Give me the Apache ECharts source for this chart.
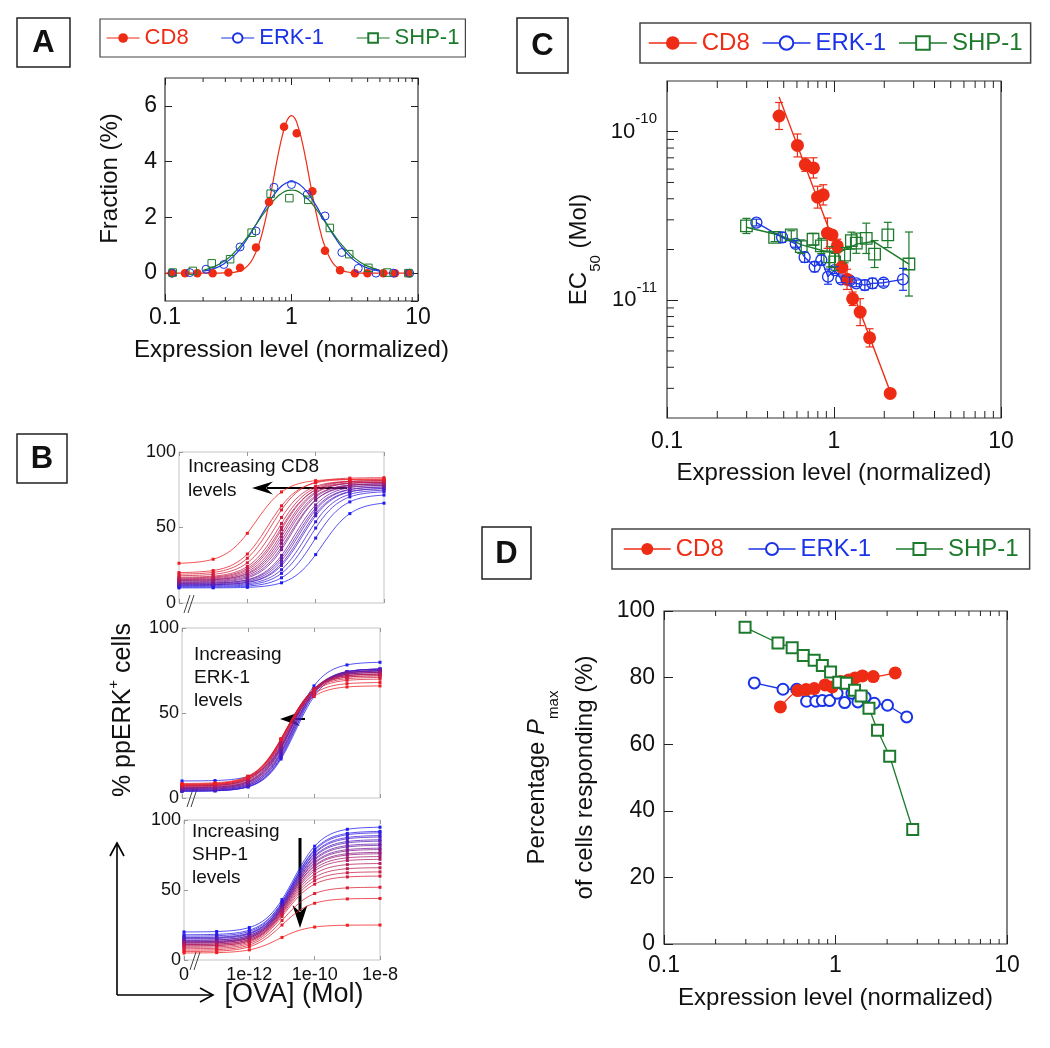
<!DOCTYPE html>
<html>
<head>
<meta charset="utf-8">
<title>Figure</title>
<script src="https://cdn.jsdelivr.net/npm/echarts@6.0.0/dist/echarts.min.js"></script>
<style>
html,body{margin:0;padding:0;background:#ffffff;}
#chart{width:1050px;height:1048px;}
</style>
</head>
<body>
<div id="chart"></div>
<script>
// ================= DATA =================
// Panel A: measured distributions
const aCd8X = [0.113,0.144,0.180,0.238,0.317,0.392,0.524,0.664,0.873,1.099,1.462,1.84,2.42,3.17,3.98,5.32,6.58,8.39];
const aCd8Y = [0,0,0,0,0.02,0.19,0.92,2.55,5.25,5.02,2.94,0.80,0.10,0,0,0,0,0];
const aErkX = [0.114,0.157,0.211,0.292,0.392,0.524,0.727,1.0,1.33,1.84,2.5,3.37,4.65,6.38,8.6];
const aErkY = [0,0.02,0.14,0.31,0.94,1.51,3.08,3.18,2.82,2.05,0.74,0.17,0,0,0];
const aShpX = [0.115,0.166,0.234,0.327,0.484,0.684,0.962,1.358,2.01,2.86,4.05,5.71,8.39];
const aShpY = [0.02,0.08,0.35,0.50,1.45,2.85,2.69,2.63,1.62,0.68,0.19,0.02,0];
// Panel A: fitted curves
const aFitX    = [0.1,0.15,0.2,0.25,0.3,0.35,0.4,0.45,0.5,0.55,0.6,0.65,0.7,0.75,0.8,0.85,0.9,0.95,1,1.05,1.1,1.2,1.3,1.4,1.5,1.6,1.7,1.8,2,2.2,2.5,3,3.5,4,5,6,8,9];
const aCd8FitY = [0,0,0,0,0.01,0.03,0.1,0.26,0.56,1.01,1.61,2.31,3.06,3.8,4.45,4.97,5.36,5.58,5.65,5.59,5.41,4.81,4.06,3.27,2.56,1.96,1.46,1.07,0.56,0.28,0.1,0.02,0,0,0,0,0,0];
const aErkFitY = [null,null,0.07,0.18,0.37,0.62,0.92,1.25,1.59,1.91,2.21,2.48,2.71,2.89,3.04,3.15,3.22,3.27,3.28,3.27,3.24,3.12,2.96,2.77,2.56,2.35,2.14,1.95,1.59,1.29,0.92,0.53,0.31,0.18,0.07,null,null,null];
const aShpFitY = [null,null,0.1,0.25,0.46,0.72,1.01,1.31,1.6,1.88,2.13,2.34,2.53,2.68,2.8,2.88,2.94,2.97,2.98,2.97,2.95,2.85,2.73,2.58,2.41,2.24,2.07,1.9,1.6,1.34,1.01,0.63,0.39,0.25,0.1,null,null,null];

// Panel B: dose-response fits, one entry per cell group (red -> blue)
// parameters: bottom %, top %, log10 EC50
const bConc = [-14,-13,-12,-11,-10,-9,-8];   // -14 stands for the "0" dose
const b1Ec     = [-11.75,-11.4,-11.3,-11.2,-11.1,-11.05,-11.0,-10.95,-10.9,-10.85,-10.8,-10.75,-10.7,-10.6,-10.55,-10.5,-10.45,-10.4,-10.3,-10.2,-10.05,-9.8];
const b1Bottom = [26,20,19,18,17,16.5,16,15.5,15,15,14.5,14,13.5,13,13,12.5,12,12,11.5,11,10.5,10];
const b1Top    = [82,82,83,81,81,80,81,80,80,79,79,78,79,78,77,77,76,76,75,74,72,67];
const b2Ec     = [-10.92,-10.9,-10.88,-10.87,-10.85,-10.84,-10.82,-10.8,-10.79,-10.77,-10.75,-10.73,-10.72,-10.7,-10.68,-10.66,-10.64,-10.62,-10.6,-10.58,-10.56,-10.6];
const b2Bottom = [8,8.5,8,7.5,7.5,7,7,7,6.5,6,6,6,5.5,5.5,5,5,4.5,4.5,4,4,4,10];
const b2Top    = [66,68,70,71,72,72,73,73,73,74,74,74,75,75,75,75,76,76,76,76,75,80];
const b3Ec     = [-11.1,-11.0,-10.95,-10.9,-10.88,-10.85,-10.83,-10.8,-10.79,-10.78,-10.77,-10.76,-10.75,-10.74,-10.73,-10.72,-10.71,-10.7,-10.69,-10.68,-10.67,-10.65];
const b3Bottom = [5,6,7,8,9,10,10,11,11,12,12,12.5,13,13,14,14,15,15.5,16,17,18,20];
const b3Top    = [25,44,52,60,63,66,69,72,74,76,77,79,80,82,83,85,86,88,89,91,92,95];

// Panel C: EC50 vs expression, error half-widths in decades
const cCd8X   = [0.469,0.604,0.673,0.753,0.798,0.862,0.914,0.973,1.046,1.114,1.197,1.293,1.434,1.634,2.17];
const cCd8Y   = [1.24e-10,8.29e-11,6.38e-11,6.1e-11,4.09e-11,4.22e-11,2.5e-11,2.44e-11,2.1e-11,1.57e-11,1.33e-11,1.02e-11,8.5e-12,5.98e-12,2.8e-12];
const cCd8Err = [0.08,0.068,0.04,0.06,0.065,0.06,0.09,0.02,0.04,0.03,0.06,0.04,0.08,0.054,0.01];
const cCd8FitX = [0.469,2.2];
const cCd8FitY = [1.61e-10,2.77e-12];
const cErkX   = [0.343,0.489,0.59,0.667,0.766,0.84,0.921,1.009,1.106,1.24,1.36,1.53,1.70,1.98,2.59];
const cErkY   = [2.89e-11,2.36e-11,2.16e-11,1.80e-11,1.58e-11,1.73e-11,1.38e-11,1.51e-11,1.33e-11,1.31e-11,1.26e-11,1.23e-11,1.26e-11,1.27e-11,1.33e-11];
const cErkErr = [0.02,0.03,0.02,0.03,0.03,0.03,0.045,0.02,0.02,0.02,0.02,0.03,0.03,0.02,0.065];
const cShpX   = [0.299,0.441,0.555,0.637,0.749,0.84,0.942,1.009,1.158,1.27,1.36,1.56,1.75,2.10,2.81];
const cShpY   = [2.76e-11,2.36e-11,2.44e-11,2.08e-11,2.30e-11,2.10e-11,1.81e-11,1.69e-11,1.85e-11,2.26e-11,2.18e-11,2.33e-11,1.88e-11,2.44e-11,1.64e-11];
const cShpErr = [0.045,0.025,0.025,0.04,0.035,0.045,0.06,0.05,0.045,0.05,0.06,0.09,0.08,0.075,0.19];
const cShpLineX = [0.299,0.469,0.643,0.902,1.056,1.38,1.73,2.81];
const cShpLineY = [2.71e-11,2.44e-11,2.13e-11,1.94e-11,1.91e-11,2.16e-11,2.23e-11,1.64e-11];

// Panel D: Pmax vs expression
const dCd8X = [0.477,0.603,0.673,0.751,0.869,0.957,1.069,1.194,1.30,1.436,1.66,2.23];
const dCd8Y = [71.2,76.1,76.4,76.7,77.8,77.2,78.8,79.3,79.9,80.5,80.3,81.4];
const dErkX = [0.336,0.494,0.594,0.678,0.767,0.838,0.924,1.022,1.131,1.247,1.35,1.487,1.683,2.01,2.60];
const dErkY = [78.4,76.5,76.5,72.9,72.9,73.1,73.1,75.3,72.5,75.3,72.7,74.1,72.3,71.7,68.2];
const dShpX = [0.297,0.462,0.559,0.649,0.751,0.838,0.936,1.045,1.157,1.291,1.41,1.567,1.758,2.07,2.82];
const dShpY = [95.1,90.4,89.0,86.6,85.2,83.6,81.7,78.6,78.3,76.2,74.5,70.8,64.2,56.4,34.4];

// Tick values
const logMinorTicks = [0.2,0.3,0.4,0.5,0.6,0.7,0.8,0.9,2,3,4,5,6,7,8,9];
const cYMinorTicks  = [3e-12,4e-12,5e-12,6e-12,7e-12,8e-12,9e-12,2e-11,3e-11,4e-11,5e-11,6e-11,7e-11,8e-11,9e-11];
const legendNames = ['CD8','ERK-1','SHP-1'];

// ================= STYLE / BUILD =================
const FONT = '"Liberation Sans", Arial, Helvetica, sans-serif';
const RED = '#ee2b14', BLUE = '#1a33e6', GREEN = '#1c7a2c';
const INK = '#111';
const zip = (xs, ys) => xs.map((x, i) => [x, ys[i]]).filter(p => p[1] !== null);
const logFmt = v => String(Math.round(v * 10) / 10);
const tick = (len, color) => ({show: true, inside: true, length: len, lineStyle: {color: color || '#222', width: 1}});
const NOLINE = {show: false, onZero: false};
const NOSPLIT = {show: false};
const nameStyle = {fontSize: 24, color: INK, fontFamily: FONT};

const grid = [
  {left: 165, top: 78,  width: 253, height: 223, show: true, borderColor: '#333', borderWidth: 1.2},
  {left: 179, top: 452, width: 205, height: 151, show: true, borderColor: '#c4c4c4', borderWidth: 1},
  {left: 182, top: 628, width: 198, height: 170, show: true, borderColor: '#c4c4c4', borderWidth: 1},
  {left: 184, top: 820, width: 196, height: 140, show: true, borderColor: '#c4c4c4', borderWidth: 1},
  {left: 667, top: 81,  width: 334, height: 337, show: true, borderColor: '#333', borderWidth: 1.2},
  {left: 664, top: 611, width: 343, height: 333, show: true, borderColor: '#333', borderWidth: 1.2}
];

function bX(g, pos, labels) {
  return {type: 'value', gridIndex: g, position: pos, min: -14, max: -8, interval: 2, axisLine: NOLINE, axisTick: tick(4, '#999'), splitLine: NOSPLIT,
    axisLabel: {show: labels, fontSize: 18, margin: 6, color: INK, fontFamily: FONT, formatter: v => v === -14 ? '0' : '1e' + v}};
}
function bY(g) {
  return {type: 'value', gridIndex: g, min: 0, max: 100, interval: 50, axisLine: NOLINE, axisTick: tick(4, '#999'), splitLine: NOSPLIT,
    axisLabel: {fontSize: 18, margin: 3, color: INK, fontFamily: FONT}};
}
function logX(g, pos, len, margin, gap) {
  const ax = {type: 'log', gridIndex: g, position: pos, min: 0.1, max: 10, axisLine: NOLINE, axisTick: tick(len), splitLine: NOSPLIT,
    axisLabel: {show: pos === 'bottom', fontSize: 23, margin: margin, color: INK, fontFamily: FONT, formatter: logFmt}};
  if (pos === 'bottom') Object.assign(ax, {name: 'Expression level (normalized)', nameLocation: 'middle', nameGap: gap, nameTextStyle: nameStyle});
  return ax;
}

const xAxis = [
  logX(0, 'bottom', 7, 5, 37),   // 0
  logX(0, 'top', 7),             // 1
  bX(1, 'bottom', false), bX(2, 'bottom', false), bX(3, 'bottom', true), // 2,3,4
  logX(4, 'bottom', 11, 12, 43), // 5
  logX(4, 'top', 11),            // 6
  logX(5, 'bottom', 9, 10, 42),  // 7
  logX(5, 'top', 9),             // 8
  bX(1, 'top', false), bX(2, 'top', false), bX(3, 'top', false) // 9,10,11
];

const yAxis = [
  {type: 'value', gridIndex: 0, min: -1, max: 7, splitNumber: 4, axisLine: NOLINE, axisTick: tick(7), splitLine: NOSPLIT,
   axisLabel: {fontSize: 23, margin: 8, color: INK, fontFamily: FONT, showMinLabel: false, showMaxLabel: false},
   name: 'Fraction (%)', nameLocation: 'middle', nameRotate: 90, nameGap: 43, nameTextStyle: Object.assign({padding: [0, 0, 0, 22]}, nameStyle)},
  {type: 'value', gridIndex: 0, position: 'right', min: -1, max: 7, splitNumber: 4, axisLine: NOLINE, axisTick: tick(7), splitLine: NOSPLIT, axisLabel: {show: false}},
  bY(1), bY(2), bY(3),
  {type: 'log', gridIndex: 4, min: 2e-12, max: 2e-10, axisLine: NOLINE, axisTick: tick(11), splitLine: NOSPLIT,
   axisLabel: {fontSize: 22, lineHeight: 40, margin: 10, color: INK, fontFamily: FONT, showMinLabel: false, showMaxLabel: false,
     formatter: v => '10{s|' + Math.round(Math.log10(v)) + '}',
     rich: {s: {fontSize: 15, lineHeight: 15, verticalAlign: 'top', color: INK, fontFamily: FONT}}},
   name: '{a|EC}{s|50}{a| (Mol)}', nameLocation: 'middle', nameRotate: 90, nameGap: 64,
   nameTextStyle: {fontSize: 24, color: INK, fontFamily: FONT,
     rich: {a: {fontSize: 24, lineHeight: 48, color: INK, fontFamily: FONT}, s: {fontSize: 15, lineHeight: 15, verticalAlign: 'bottom', color: INK, fontFamily: FONT}}}},
  {type: 'value', gridIndex: 5, min: 0, max: 100, interval: 20, axisLine: NOLINE, axisTick: tick(9), splitLine: NOSPLIT,
   axisLabel: {fontSize: 23, margin: 9, color: INK, fontFamily: FONT},
   name: '{a|Percentage }{i|P}{s|max}\n{a|of cells responding (%)}', nameLocation: 'middle', nameRotate: 90, nameGap: 55,
   nameTextStyle: {fontSize: 24, color: INK, fontFamily: FONT,
     rich: {a: {fontSize: 24, lineHeight: 48, color: INK, fontFamily: FONT},
            i: {fontSize: 24, lineHeight: 48, fontStyle: 'italic', color: INK, fontFamily: FONT},
            s: {fontSize: 15, lineHeight: 15, verticalAlign: 'bottom', color: INK, fontFamily: FONT}}}}
];

const series = [];
const HOLLOW = 'rgba(255,255,255,0)';

// --- Panel D (first, so legends take their symbols from these line series)
series.push({name: 'CD8', type: 'line', xAxisIndex: 7, yAxisIndex: 6, data: zip(dCd8X, dCd8Y), smooth: 0.3,
  symbol: 'circle', symbolSize: 13, lineStyle: {color: RED, width: 1.2}, itemStyle: {color: RED}, z: 4});
series.push({name: 'ERK-1', type: 'line', xAxisIndex: 7, yAxisIndex: 6, data: zip(dErkX, dErkY),
  symbol: 'emptyCircle', symbolSize: 11, lineStyle: {color: BLUE, width: 1.3}, itemStyle: {color: BLUE, borderColor: BLUE, borderWidth: 1.3}, z: 3});
series.push({name: 'SHP-1', type: 'line', xAxisIndex: 7, yAxisIndex: 6, data: zip(dShpX, dShpY),
  symbol: 'emptyRect', symbolSize: 11, lineStyle: {color: GREEN, width: 1.3}, itemStyle: {color: GREEN, borderColor: GREEN, borderWidth: 1.3}, z: 5});

// --- Panel A
series.push({name: 'CD8', type: 'line', xAxisIndex: 0, yAxisIndex: 0, data: zip(aFitX, aCd8FitY), smooth: true, symbol: 'none', lineStyle: {color: RED, width: 1.2}});
series.push({name: 'ERK-1', type: 'line', xAxisIndex: 0, yAxisIndex: 0, data: zip(aFitX, aErkFitY), smooth: true, symbol: 'none', lineStyle: {color: BLUE, width: 1.2}});
series.push({name: 'SHP-1', type: 'line', xAxisIndex: 0, yAxisIndex: 0, data: zip(aFitX, aShpFitY), smooth: true, symbol: 'none', lineStyle: {color: GREEN, width: 1.2}});
series.push({name: 'CD8', type: 'scatter', xAxisIndex: 0, yAxisIndex: 0, data: zip(aCd8X, aCd8Y), symbol: 'circle', symbolSize: 8.5, itemStyle: {color: RED, opacity: 1}, z: 4});
series.push({name: 'ERK-1', type: 'scatter', xAxisIndex: 0, yAxisIndex: 0, data: zip(aErkX, aErkY), symbol: 'circle', symbolSize: 8, itemStyle: {color: HOLLOW, borderColor: BLUE, borderWidth: 1, opacity: 1}, z: 4});
series.push({name: 'SHP-1', type: 'scatter', xAxisIndex: 0, yAxisIndex: 0, data: zip(aShpX, aShpY), symbol: 'rect', symbolSize: 7.5, itemStyle: {color: HOLLOW, borderColor: GREEN, borderWidth: 1, opacity: 1}, z: 4});

// --- Panel C
function errBars(xs, ys, errs, color, xi, yi) {
  return {type: 'custom', xAxisIndex: xi, yAxisIndex: yi, silent: true, z: 6,
    data: xs.map((x, i) => [x, ys[i] / Math.pow(10, errs[i]), ys[i] * Math.pow(10, errs[i])]),
    renderItem: (params, api) => {
      const p1 = api.coord([api.value(0), api.value(1)]);
      const p2 = api.coord([api.value(0), api.value(2)]);
      const st = {stroke: color, lineWidth: 1.2};
      return {type: 'group', children: [
        {type: 'line', shape: {x1: p1[0], y1: p1[1], x2: p2[0], y2: p2[1]}, style: st},
        {type: 'line', shape: {x1: p1[0] - 4, y1: p1[1], x2: p1[0] + 4, y2: p1[1]}, style: st},
        {type: 'line', shape: {x1: p2[0] - 4, y1: p2[1], x2: p2[0] + 4, y2: p2[1]}, style: st}]};
    }};
}
series.push({name: 'CD8', type: 'line', xAxisIndex: 5, yAxisIndex: 5, data: zip(cCd8FitX, cCd8FitY), symbol: 'none', lineStyle: {color: RED, width: 1.4}, z: 2});
series.push({name: 'SHP-1', type: 'line', xAxisIndex: 5, yAxisIndex: 5, data: zip(cShpLineX, cShpLineY), symbol: 'none', lineStyle: {color: GREEN, width: 1.5}, z: 2});
series.push({name: 'ERK-1', type: 'line', xAxisIndex: 5, yAxisIndex: 5, data: zip(cErkX, cErkY), symbol: 'circle', symbolSize: 11,
  lineStyle: {color: BLUE, width: 1.3}, itemStyle: {color: HOLLOW, borderColor: BLUE, borderWidth: 1.3}, z: 3});
series.push({name: 'SHP-1', type: 'scatter', xAxisIndex: 5, yAxisIndex: 5, data: zip(cShpX, cShpY), symbol: 'rect', symbolSize: 11.5,
  itemStyle: {color: HOLLOW, borderColor: GREEN, borderWidth: 1.3, opacity: 1}, z: 3});
series.push({name: 'CD8', type: 'scatter', xAxisIndex: 5, yAxisIndex: 5, data: zip(cCd8X, cCd8Y), symbol: 'circle', symbolSize: 13, itemStyle: {color: RED, opacity: 1}, z: 4});
series.push(errBars(cErkX, cErkY, cErkErr, BLUE, 5, 5));
series.push(errBars(cShpX, cShpY, cShpErr, GREEN, 5, 5));
series.push(errBars(cCd8X, cCd8Y, cCd8Err, RED, 5, 5));

// --- Panel B (fitted dose-response curves + measured dots)
function mix(t) {
  const r = Math.round(240 * (1 - t) + 30 * t), b = Math.round(30 * (1 - t) + 240 * t);
  return 'rgb(' + r + ',28,' + b + ')';
}
function hill(bot, top, ec, x) { return bot + (top - bot) / (1 + Math.pow(10, ec - x)); }
function buildB(ec, bot, top, xi, yi) {
  const n = ec.length, dots = [];
  for (let i = n - 1; i >= 0; i--) {
    const col = mix(i / (n - 1));
    const pts = [];
    for (let k = 0; k <= 60; k++) { const x = -14 + k * 0.1; pts.push([x, hill(bot[i], top[i], ec[i], x)]); }
    series.push({type: 'line', xAxisIndex: xi, yAxisIndex: yi, data: pts, symbol: 'none', silent: true, z: 2,
      lineStyle: {color: col, width: 0.9, opacity: 0.85}});
    bConc.forEach(c => dots.push({value: [c, hill(bot[i], top[i], ec[i], c)], itemStyle: {color: col}}));
  }
  series.push({type: 'scatter', xAxisIndex: xi, yAxisIndex: yi, data: dots, symbol: 'rect', symbolSize: 3, silent: true, z: 3, itemStyle: {opacity: 1}});
}
buildB(b1Ec, b1Bottom, b1Top, 2, 2);
buildB(b2Ec, b2Bottom, b2Top, 3, 3);
buildB(b3Ec, b3Bottom, b3Top, 4, 4);

// --- minor ticks on log axes
function minorX(xi, yi, refY, len) {
  return {type: 'custom', xAxisIndex: xi, yAxisIndex: yi, silent: true, z: 7, clip: false,
    data: logMinorTicks.map(v => [v, refY]),
    renderItem: (params, api) => {
      const cs = params.coordSys, x = api.coord([api.value(0), api.value(1)])[0], b = cs.y + cs.height;
      const st = {stroke: '#222', lineWidth: 1};
      return {type: 'group', children: [
        {type: 'line', shape: {x1: x, y1: b, x2: x, y2: b - len}, style: st},
        {type: 'line', shape: {x1: x, y1: cs.y, x2: x, y2: cs.y + len}, style: st}]};
    }};
}
series.push(minorX(0, 0, 1, 4));
series.push(minorX(5, 5, 1e-11, 7));
series.push(minorX(7, 6, 50, 5));
series.push({type: 'custom', xAxisIndex: 5, yAxisIndex: 5, silent: true, z: 7, clip: false,
  data: cYMinorTicks.map(v => [1, v]),
  renderItem: (params, api) => {
    const cs = params.coordSys, y = api.coord([api.value(0), api.value(1)])[1];
    return {type: 'line', shape: {x1: cs.x, y1: y, x2: cs.x + 7, y2: y}, style: {stroke: '#222', lineWidth: 1}};
  }});

// --- legends
function legendData(lw) {
  return [
    {name: 'CD8', textStyle: {color: RED}, itemStyle: {color: RED}, lineStyle: {color: RED, width: lw}},
    {name: 'ERK-1', textStyle: {color: BLUE}, itemStyle: {color: BLUE}, lineStyle: {color: BLUE, width: lw}},
    {name: 'SHP-1', textStyle: {color: GREEN}, itemStyle: {color: GREEN}, lineStyle: {color: GREEN, width: lw}}
  ];
}
const legend = [
  {left: 100, top: 19, data: legendData(1.2), itemWidth: 33, itemHeight: 12, itemGap: 32, padding: [8, 6],
   borderColor: '#444', borderWidth: 1.2, selectedMode: false, textStyle: {fontSize: 22, fontFamily: FONT}},
  {left: 640, top: 23, data: legendData(1.5), itemWidth: 48, itemHeight: 17, itemGap: 12, padding: [8, 8],
   borderColor: '#444', borderWidth: 1.5, selectedMode: false, textStyle: {fontSize: 24, fontFamily: FONT}},
  {left: 612, top: 529, data: legendData(1.5), itemWidth: 47, itemHeight: 15, itemGap: 24, padding: [8, 11],
   borderColor: '#444', borderWidth: 1.5, selectedMode: false, textStyle: {fontSize: 24, fontFamily: FONT}}
];

// --- annotations
const graphics = [];
function labelBox(x, y, w, h, t) {
  graphics.push({type: 'rect', shape: {x: x, y: y, width: w, height: h}, style: {fill: '#fff', stroke: '#222', lineWidth: 1.5}});
  graphics.push({type: 'text', x: x + w / 2, y: y + h / 2 + 1, style: {text: t, fontSize: 31, fontWeight: 'bold', fontFamily: FONT, fill: INK, align: 'center', verticalAlign: 'middle'}});
}
labelBox(17, 18, 53, 49, 'A');
labelBox(17, 434, 50, 49, 'B');
labelBox(517, 18, 51, 55, 'C');
labelBox(482, 527, 49, 52, 'D');

function txt(x, y, t, size, lh) {
  graphics.push({type: 'text', x: x, y: y, style: {text: t, fontSize: size, lineHeight: lh, fontFamily: FONT, fill: INK, align: 'left', verticalAlign: 'top'}});
}
txt(188, 455, 'Increasing CD8\nlevels', 19, 24);
txt(194, 643, 'Increasing\nERK-1\nlevels', 19, 23);
txt(192, 820, 'Increasing\nSHP-1\nlevels', 19, 23);

function arrow(x1, y1, x2, y2, head, hw, lw, open) {
  const L = Math.hypot(x2 - x1, y2 - y1), ux = (x2 - x1) / L, uy = (y2 - y1) / L;
  const bx = x2 - ux * head, by = y2 - uy * head, px = -uy * hw, py = ux * hw;
  const st = {stroke: '#000', lineWidth: lw};
  if (open) {
    graphics.push({type: 'line', shape: {x1: x1, y1: y1, x2: x2, y2: y2}, style: st});
    graphics.push({type: 'polyline', shape: {points: [[bx + px, by + py], [x2, y2], [bx - px, by - py]]}, style: st});
  } else {
    graphics.push({type: 'line', shape: {x1: x1, y1: y1, x2: bx + ux * 3, y2: by + uy * 3}, style: st});
    graphics.push({type: 'polygon', shape: {points: [[x2, y2], [bx + px - ux * 3, by + py - uy * 3], [bx + ux * 4, by + uy * 4], [bx - px - ux * 3, by - py - uy * 3]]}, style: {fill: '#000'}});
  }
}
arrow(347, 488, 252, 488, 18, 6.5, 2, false);
arrow(305, 719, 280, 719, 17, 7, 2, false);
arrow(300, 838, 300, 928, 20, 7.5, 3, false);
arrow(117, 995, 117, 843, 13, 7, 1.6, true);
arrow(117, 995, 213, 995, 13, 7, 1.6, true);

function breakMark(x, y) {
  const st = {stroke: '#444', lineWidth: 1};
  graphics.push({type: 'line', shape: {x1: x, y1: y + 9, x2: x + 6, y2: y - 9}, style: st});
  graphics.push({type: 'line', shape: {x1: x + 4, y1: y + 9, x2: x + 10, y2: y - 9}, style: st});
}
breakMark(184, 604);
breakMark(187, 798);
breakMark(190, 961);

graphics.push({type: 'text', x: 123, y: 710, rotation: Math.PI / 2,
  style: {text: '% ppERK{sup|+} cells', fontSize: 25, lineHeight: 34, fontFamily: FONT, fill: INK, align: 'center', verticalAlign: 'middle',
    rich: {sup: {fontSize: 15, lineHeight: 15, verticalAlign: 'top', fontFamily: FONT, fill: INK}}}});
graphics.push({type: 'text', x: 294, y: 995,
  style: {text: '[OVA] (Mol)', fontSize: 27, fontFamily: FONT, fill: INK, align: 'center', verticalAlign: 'middle'}});

const chart = echarts.init(document.getElementById('chart'), null, {renderer: 'canvas'});
chart.setOption({
  animation: false,
  backgroundColor: '#ffffff',
  textStyle: {fontFamily: FONT},
  grid: grid,
  xAxis: xAxis,
  yAxis: yAxis,
  legend: legend,
  series: series,
  graphic: {elements: graphics}
});
</script>
</body>
</html>
